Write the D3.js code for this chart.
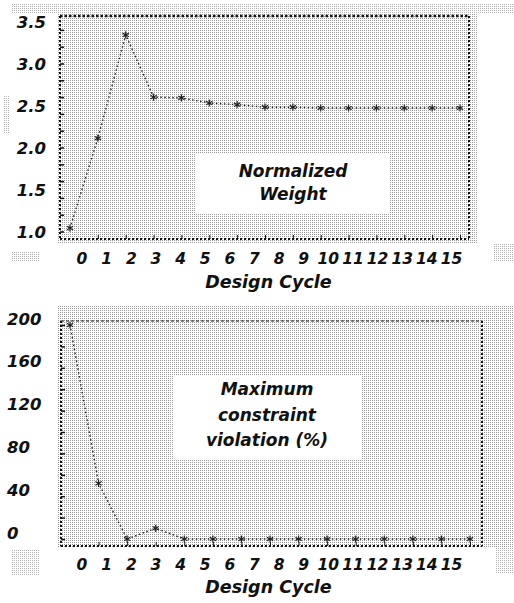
<!DOCTYPE html>
<html><head><meta charset="utf-8">
<script src="https://cdn.jsdelivr.net/npm/d3@7"></script>
<style>
html,body{margin:0;padding:0;background:#fff;}
svg{display:block;}
text{font-family:"DejaVu Sans",sans-serif;font-weight:bold;font-style:oblique;fill:#111;}
</style></head>
<body><svg id="c" width="514" height="603"></svg>
<script>
// ---- data ----
const cycleLabels = ["0","1","2","3","4","5","6","7","8","9","10","11","12","13","14","15"];
const weightCycles = [0,1,2,3,4,5,6,7,8,9,10,11,12,13,14];
const weightValues = [1.04,2.11,3.34,2.60,2.59,2.53,2.51,2.48,2.48,2.47,2.47,2.47,2.47,2.47,2.47];
const weightTicks = [1.0,1.5,2.0,2.5,3.0,3.5];
const violCycles = [0,1,2,3,4,5,6,7,8,9,10,11,12,13,14];
const violValues = [200,52,0,10,0,0,0,0,0,0,0,0,0,0,0];
const violTicks = [0,40,80,120,160,200];
const xTitle = "Design Cycle";
const weightNote = ["Normalized","Weight"];
const violNote = ["Maximum","constraint","violation (%)"];

const svg = d3.select("#c");
const defs = svg.append("defs");
function pat(id, c){
  const p = defs.append("pattern").attr("id",id).attr("width",2).attr("height",2).attr("patternUnits","userSpaceOnUse");
  p.append("rect").attr("width",2).attr("height",2).attr("fill","#fff");
  p.append("rect").attr("width",1).attr("height",1).attr("fill",c);
}
pat("dots","#9a9a9a");
pat("dotsL","#b4b4b4");

function bg(x,y,w,h,id){ svg.append("rect").attr("x",x).attr("y",y).attr("width",w).attr("height",h).attr("fill","url(#"+id+")"); }

// ---- background areas ----
bg(12,3,502,11,"dotsL");
bg(58,14,420,229,"dots");
bg(12,251,28,11,"dotsL");
bg(493,244,21,18,"dotsL");
bg(4,95,6,38,"dotsL");
bg(58,305,456,243,"dots");
bg(12,550,28,25,"dotsL");
bg(495,548,19,25,"dotsL");

function panel(o){
  const g = svg.append("g");
  const x = d3.scaleLinear().domain([0,14]).range([70,o.xEnd]);
  const y = d3.scaleLinear().domain(o.yDomain).range(o.yRange);
  const xl = d3.scalePoint().domain(cycleLabels).range([81.5,451]);
  // white note box
  g.append("rect").attr("x",o.box[0]).attr("y",o.box[1]).attr("width",o.box[2]).attr("height",o.box[3]).attr("fill","#fff");
  // frame
  const f = o.frame;
  const fr = g.append("g").attr("fill","none").attr("stroke","#111");
  fr.append("line").attr("x1",f[0]).attr("x2",f[2]).attr("y1",f[1]).attr("y2",f[1])
    .attr("stroke-width",o.topW).attr("stroke-dasharray",o.topDash);
  fr.append("line").attr("x1",f[2]).attr("x2",f[2]).attr("y1",f[1]).attr("y2",f[3])
    .attr("stroke-width",2).attr("stroke-dasharray","2,2");
  fr.append("line").attr("x1",f[0]).attr("x2",f[2]).attr("y1",f[3]).attr("y2",f[3])
    .attr("stroke-width",2).attr("stroke-dasharray","2,2");
  fr.append("line").attr("x1",f[0]).attr("x2",f[0]).attr("y1",f[1]).attr("y2",f[3])
    .attr("stroke-width",2).attr("stroke-dasharray","2,2");
  // small axis ticks on frame
  const la = g.append("g").attr("transform","translate("+f[0]+",0)")
    .call(d3.axisRight(y).ticks(o.minorTicks).tickSize(4).tickFormat(""));
  la.select(".domain").remove();
  la.selectAll("line").attr("stroke","#111").attr("stroke-width",1.5);
  const ba = g.append("g").attr("transform","translate(0,"+f[3]+")")
    .call(d3.axisTop(x).tickValues(o.cycles.slice(1)).tickSize(4).tickFormat(""));
  ba.select(".domain").remove();
  ba.selectAll("line").attr("stroke","#111").attr("stroke-width",1);
  // y labels
  const ya = g.append("g").attr("transform","translate("+o.yLabX+",0)")
    .call(d3.axisLeft(y).tickValues(o.ticks).tickSize(0).tickPadding(0).tickFormat(o.fmt));
  ya.select(".domain").remove();
  ya.selectAll("text").attr("font-size",16.5).attr("text-anchor",o.yAnchor).attr("dy",o.yDy)
    .style("font-family","DejaVu Sans").style("font-weight","bold").style("font-style","oblique").attr("fill","#111");
  // x labels
  const xa = g.append("g").attr("transform","translate(0,"+o.xLabY+")")
    .call(d3.axisBottom(xl).tickSize(0).tickPadding(0));
  xa.select(".domain").remove();
  xa.selectAll("text").attr("font-size",15.5).attr("dy",0)
    .style("font-family","DejaVu Sans").style("font-weight","bold").style("font-style","oblique").attr("fill","#111");
  // title
  g.append("text").attr("x",268.5).attr("y",o.titleY).attr("text-anchor","middle").attr("font-size",17.5).text(xTitle);
  // note
  o.note.forEach((t,i)=>{
    g.append("text").attr("x",o.noteX).attr("y",o.noteY[i]).attr("text-anchor","middle").attr("font-size",17).text(t);
  });
  // data line
  const pts = o.cycles.map((c,i)=>[c,o.values[i]]);
  g.append("path").datum(pts).attr("fill","none").attr("stroke","#222").attr("stroke-width",1.4)
    .attr("stroke-dasharray","1.5,2.5")
    .attr("d",d3.line().x(d=>x(d[0])).y(d=>y(d[1])));
  g.selectAll(".m").data(pts).join("path").attr("class","m")
    .attr("transform",d=>"translate("+x(d[0])+","+y(d[1])+")")
    .attr("d",d3.symbol(d3.symbolAsterisk,36))
    .attr("fill","none").attr("stroke","#222").attr("stroke-width",1.2);
}

panel({xEnd:460, yDomain:[1,3.5], yRange:[231.5,21.5], frame:[60,16,469,239], topW:2.5, topDash:"2.5,2",
  box:[195,154,195,60], cycles:weightCycles, values:weightValues, ticks:weightTicks, fmt:d3.format(".1f"),
  minorTicks:10, yLabX:46, yAnchor:"end", yDy:"0.35em", xLabY:264, titleY:288,
  note:weightNote, noteX:293, noteY:[177,200]});

panel({xEnd:470, yDomain:[0,200], yRange:[539,325], frame:[61,321,482,546], topW:1, topDash:"3,2",
  box:[173,375,189,85], cycles:violCycles, values:violValues, ticks:violTicks, fmt:d3.format("d"),
  minorTicks:10, yLabX:7, yAnchor:"start", yDy:"-0.05em", xLabY:570, titleY:593,
  note:violNote, noteX:267, noteY:[395,421,446]});
</script></body></html>
